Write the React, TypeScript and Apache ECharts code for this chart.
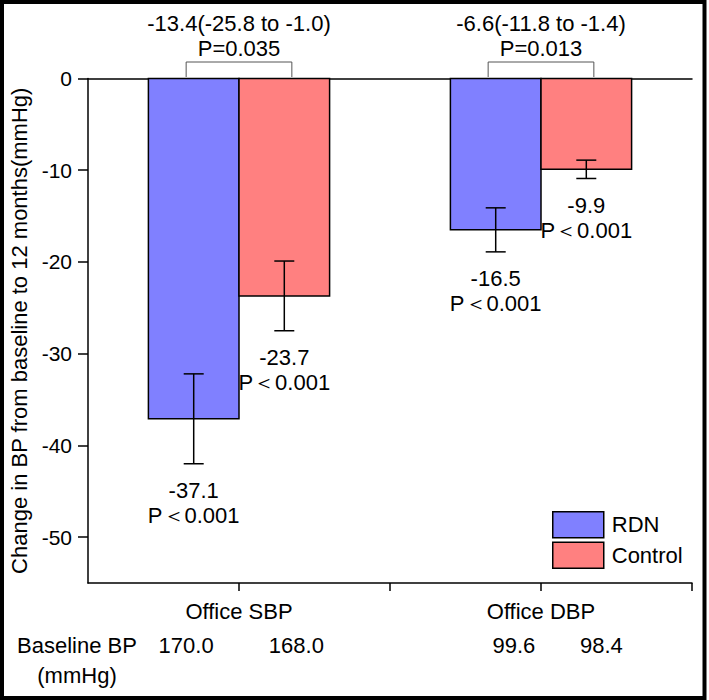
import React, { useEffect, useRef } from "react";
import * as echarts from "echarts";

const categories = ["Office SBP", "Office DBP"];
const categoryPos = [1, 3];
const rdnMean = [-37.1, -16.5];
const rdnLower = [-42.0, -18.9];
const rdnUpper = [-32.2, -14.1];
const ctrlMean = [-23.7, -9.9];
const ctrlLower = [-27.5, -10.9];
const ctrlUpper = [-19.9, -8.9];
const rdnP = ["P＜0.001", "P＜0.001"];
const ctrlP = ["P＜0.001", "P＜0.001"];
const diffText = ["-13.4(-25.8 to -1.0)", "-6.6(-11.8 to -1.4)"];
const diffP = ["P=0.035", "P=0.013"];
const rdnBaseline = ["170.0", "99.6"];
const ctrlBaseline = ["168.0", "98.4"];
const yTicks = [0, -10, -20, -30, -40, -50];
const xTicks = [1, 2, 3, 4];

const FONT = "'Liberation Sans', Arial, Helvetica, sans-serif";
const BLUE = "#8080FF";
const RED = "#FF8080";
const Y_MIN = -55;
const HALF_BAR = 0.3;
const BRACKET_HALF = 0.35;
// text anchor shift (axis units) for the baseline numbers
const BASELINE_SHIFT = { rdn: [-0.05, 0.12], ctrl: [0.08, 0.1] };

function txt(text: string, x: number, y: number, size = 22, fill = "#000") {
  return {
    type: "text",
    x,
    y,
    style: {
      text,
      fill,
      fontSize: size,
      fontFamily: FONT,
      align: "center",
      verticalAlign: "middle",
    },
  };
}

function makeRender(side: number, color: string, pLabels: string[], baseLabels: string[], shifts: number[]) {
  return (params: any, api: any) => {
    const idx = params.dataIndex;
    const catX = api.value(0);
    const mean = api.value(1);
    const lower = api.value(2);
    const upper = api.value(3);
    const cx = catX + side * HALF_BAR;
    const p0 = api.coord([cx - HALF_BAR, 0]);
    const p1 = api.coord([cx + HALF_BAR, mean]);
    const top = api.coord([cx, upper]);
    const bot = api.coord([cx, lower]);
    const base = api.coord([cx + shifts[idx], Y_MIN]);
    const lineStyle = { stroke: "#000", lineWidth: 1.5 };
    return {
      type: "group",
      children: [
        {
          type: "rect",
          shape: { x: p0[0], y: p0[1], width: p1[0] - p0[0], height: p1[1] - p0[1] },
          style: { fill: color, stroke: "#000", lineWidth: 1.5 },
        },
        { type: "line", shape: { x1: top[0], y1: top[1], x2: bot[0], y2: bot[1] }, style: lineStyle },
        { type: "line", shape: { x1: top[0] - 10, y1: top[1], x2: top[0] + 10, y2: top[1] }, style: lineStyle },
        { type: "line", shape: { x1: bot[0] - 10, y1: bot[1], x2: bot[0] + 10, y2: bot[1] }, style: lineStyle },
        txt(mean.toFixed(1), bot[0], bot[1] + 27),
        txt(pLabels[idx], bot[0], bot[1] + 52),
        txt(baseLabels[idx], base[0], base[1] + 62),
      ],
    };
  };
}

function renderBracket(params: any, api: any) {
  const idx = params.dataIndex;
  const c = api.value(0);
  const l = api.coord([c - BRACKET_HALF, 0]);
  const r = api.coord([c + BRACKET_HALF, 0]);
  const mid = api.coord([c, 0]);
  const y0 = l[1] - 1.5;
  const yTop = l[1] - 16.5;
  return {
    type: "group",
    children: [
      {
        type: "polyline",
        shape: { points: [[l[0], y0], [l[0], yTop], [r[0], yTop], [r[0], y0]] },
        style: { stroke: "#555", lineWidth: 1, fill: "none" },
      },
      txt(diffText[idx], mid[0], mid[1] - 55),
      txt(diffP[idx], mid[0], mid[1] - 30.5),
    ],
  };
}

export default function App() {
  const ref = useRef<HTMLDivElement>(null);
  useEffect(() => {
    document.body.style.margin = "0";
    if (!ref.current) return;
    const chart = echarts.init(ref.current, null, { renderer: "svg" });
    const rdnData = categoryPos.map((x, i) => [x, rdnMean[i], rdnLower[i], rdnUpper[i]]);
    const ctrlData = categoryPos.map((x, i) => [x, ctrlMean[i], ctrlLower[i], ctrlUpper[i]]);
    chart.setOption({
      animation: false,
      backgroundColor: "#fff",
      textStyle: { fontFamily: FONT },
      grid: { left: 88, right: 17, top: 78.5, bottom: 117, containLabel: false, outerBoundsMode: "none" },
      xAxis: [
        {
          type: "value",
          position: "bottom",
          min: 0,
          max: 4,
          interval: 1,
          splitLine: { show: false },
          axisLine: { show: true, onZero: false, lineStyle: { color: "#000", width: 1.5 } },
          axisTick: { show: true, length: 8, customValues: xTicks, lineStyle: { color: "#000", width: 1.5 } },
          axisLabel: {
            customValues: categoryPos,
            formatter: (v: number) => {
              const i = categoryPos.indexOf(v);
              return i >= 0 ? categories[i] : "";
            },
            margin: 17,
            fontSize: 22,
            color: "#000",
            fontFamily: FONT,
          },
        },
        {
          type: "value",
          position: "top",
          min: 0,
          max: 4,
          splitLine: { show: false },
          axisLine: { show: true, onZero: false, lineStyle: { color: "#000", width: 1.5 } },
          axisTick: { show: false },
          axisLabel: { show: false },
        },
      ],
      yAxis: {
        type: "value",
        min: Y_MIN,
        max: 0,
        splitLine: { show: false },
        axisLine: { show: true, onZero: false, lineStyle: { color: "#000", width: 1.5 } },
        axisTick: { show: true, length: 10, customValues: yTicks, lineStyle: { color: "#000", width: 1.5 } },
        axisLabel: { customValues: yTicks, margin: 16, fontSize: 21, color: "#000", fontFamily: FONT },
        name: "Change in BP from baseline to 12 months(mmHg)",
        nameLocation: "middle",
        nameRotate: 90,
        nameGap: 50,
        nameTextStyle: { fontSize: 22, color: "#000", fontFamily: FONT },
      },
      legend: {
        data: [
          { name: "RDN", icon: "rect", itemStyle: { color: BLUE, borderColor: "#000", borderWidth: 1.5 } },
          { name: "Control", icon: "rect", itemStyle: { color: RED, borderColor: "#000", borderWidth: 1.5 } },
        ],
        orient: "vertical",
        left: 552,
        top: 511,
        padding: 0,
        itemWidth: 51,
        itemHeight: 26,
        itemGap: 3,
        selectedMode: false,
        textStyle: { fontSize: 22, color: "#000", fontFamily: FONT, padding: [0, 0, 0, 3] },
      },
      graphic: [
        {
          type: "rect",
          shape: { x: 2, y: 2, width: 702.5, height: 696 },
          style: { fill: "none", stroke: "#000", lineWidth: 4 },
          silent: true,
        },
        txt("Baseline BP", 77, 645) as any,
        txt("(mmHg)", 77, 675) as any,
      ],
      series: [
        {
          name: "RDN",
          type: "custom",
          itemStyle: { color: BLUE },
          encode: { x: 0, y: 1 },
          clip: false,
          data: rdnData,
          renderItem: makeRender(-1, BLUE, rdnP, rdnBaseline, BASELINE_SHIFT.rdn),
        },
        {
          name: "Control",
          type: "custom",
          itemStyle: { color: RED },
          encode: { x: 0, y: 1 },
          clip: false,
          data: ctrlData,
          renderItem: makeRender(1, RED, ctrlP, ctrlBaseline, BASELINE_SHIFT.ctrl),
        },
        {
          name: "diff",
          type: "custom",
          encode: { x: 0, y: 1 },
          clip: false,
          data: categoryPos.map((x) => [x, 0]),
          renderItem: renderBracket,
        },
      ],
    });
    return () => chart.dispose();
  }, []);
  return <div ref={ref} style={{ width: 709, height: 700 }} />;
}
